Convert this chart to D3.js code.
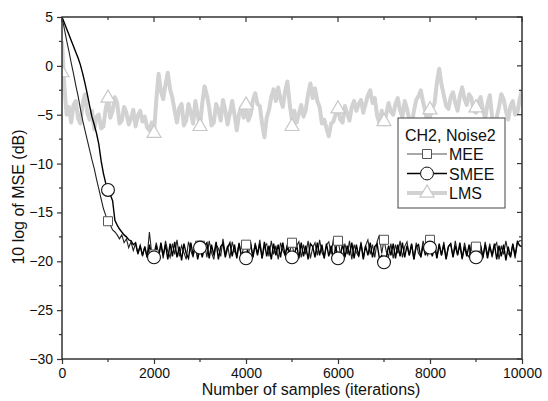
<!DOCTYPE html>
<html lang='en'>
<head>
  <meta charset='UTF-8'>
  <title>MSE curves</title>
  <style>
    * {
      margin: 0;
      padding: 0;
    }
    body {
      background: #fff;
    }
    #chart {
      width: 548px;
      height: 401px;
    }
    text {
      font-family: 'Liberation Sans', Arial, sans-serif;
      fill: #111;
    }
  </style>
</head>
<body>
<script src='https://cdn.jsdelivr.net/npm/d3@7'></script>
<div id='chart'></div>
<script>
  // every curve is sampled each 50 iterations
  const sampleStep = 50
  const mee = [
    5.0, 3.8, 2.6, 1.5, 0.3, -0.8, -2.0, -3.1, -4.4, -5.6, -6.6, -7.6, -8.6, -9.6, -10.5, -11.6, -12.6, -13.6, -14.6, -15.3,
    -15.9, -16.3, -16.8, -17.0, -17.3, -17.7, -17.3, -18.1, -17.7, -18.6, -18.0, -18.9, -18.2, -19.3, -18.4, -19.5, -18.5, -19.6, -17.0, -19.2,
    -19.3, -18.1, -19.4, -18.3, -19.7, -17.9, -19.0, -19.6, -18.2, -19.3, -17.8, -19.5, -18.4, -19.1, -19.8, -18.0, -18.9, -19.6, -18.1, -19.2,
    -18.4, -19.5, -18.2, -19.6, -17.9, -19.1, -19.8, -18.3, -18.7, -19.5, -17.7, -19.3, -18.4, -19.7, -18.0, -19.0, -19.4, -18.1, -19.6, -18.5,
    -18.3, -19.3, -18.2, -19.6, -18.1, -19.2, -17.8, -19.7, -18.5, -18.2, -19.5, -17.9, -19.3, -18.4, -19.8, -18.1, -18.9, -19.4, -18.2, -19.1,
    -18.1, -19.5, -18.4, -18.0, -19.6, -18.3, -19.3, -17.9, -19.7, -18.6, -18.1, -19.4, -17.8, -19.1, -19.6, -18.3, -18.0, -19.3, -17.7, -18.9,
    -17.9, -19.1, -19.6, -18.2, -19.3, -17.9, -19.8, -18.3, -19.1, -19.5, -18.0, -19.6, -18.4, -17.8, -19.3, -18.3, -19.6, -18.0, -17.3, -19.2,
    -17.8, -19.0, -19.5, -18.2, -19.7, -18.3, -19.2, -17.9, -19.6, -18.5, -18.0, -19.4, -18.3, -19.8, -18.1, -19.2, -19.5, -17.9, -18.9, -19.4,
    -17.8, -19.2, -18.1, -19.6, -18.4, -19.4, -18.0, -19.7, -18.5, -18.2, -19.5, -17.9, -19.3, -18.4, -19.8, -18.1, -19.2, -19.6, -18.2, -19.0,
    -18.5, -19.5, -18.3, -19.7, -18.0, -19.4, -18.2, -19.6, -18.5, -18.1, -19.8, -18.4, -19.3, -17.9, -19.2, -19.5, -18.3, -19.7, -18.1, -17.9,
    -17.9
  ]
  const smee = [
    5.0, 4.4, 3.8, 3.2, 2.6, 2.0, 1.4, 0.8, 0.1, -0.8, -1.8, -2.9, -4.1, -5.2, -6.0, -6.9, -8.0, -9.7, -11.0, -12.0,
    -12.7, -13.2, -13.8, -15.8, -16.3, -16.7, -17.0, -17.3, -17.5, -17.8, -17.9, -18.3, -18.1, -19.2, -18.4, -19.4, -18.5, -19.6, -18.3, -19.5,
    -19.6, -18.4, -19.7, -18.1, -19.4, -18.3, -19.8, -18.2, -19.5, -18.0, -19.6, -18.5, -19.9, -18.2, -19.2, -19.7, -18.1, -19.4, -18.3, -19.8,
    -18.6, -19.6, -18.4, -18.1, -19.7, -18.3, -19.4, -18.0, -19.8, -18.5, -18.2, -19.6, -18.6, -18.1, -19.5, -18.3, -19.7, -18.2, -19.4, -19.6,
    -19.7, -18.5, -18.1, -19.6, -18.3, -19.4, -18.2, -19.7, -18.0, -19.5, -18.4, -19.8, -18.2, -19.4, -18.3, -19.6, -18.1, -19.4, -18.4, -19.7,
    -19.6, -19.4, -18.3, -19.7, -18.1, -19.5, -18.4, -19.8, -18.2, -18.5, -19.6, -18.1, -19.4, -18.3, -19.7, -18.2, -19.5, -18.4, -19.8, -18.5,
    -19.7, -19.5, -18.2, -19.6, -18.4, -19.4, -18.1, -19.7, -18.3, -19.5, -18.2, -19.8, -18.4, -19.4, -18.1, -19.6, -18.5, -18.2, -19.7, -19.4,
    -20.1, -19.6, -18.4, -19.4, -18.2, -19.7, -18.3, -19.5, -18.1, -19.6, -18.4, -19.4, -18.2, -19.8, -18.5, -18.3, -19.6, -18.4, -19.4, -18.3,
    -18.6, -19.5, -18.4, -19.7, -18.2, -19.4, -18.3, -19.8, -18.5, -18.2, -19.6, -18.4, -19.4, -18.1, -19.7, -18.5, -19.5, -18.3, -19.9, -19.4,
    -19.6, -20.2, -18.4, -19.6, -18.3, -19.7, -18.5, -19.4, -18.2, -19.8, -18.4, -19.5, -18.3, -19.9, -18.5, -19.6, -18.2, -19.4, -18.0, -18.4,
    -18.5
  ]
  const lms = [
    2.5, -2.0, -5.0, -4.2, -5.8, -4.0, -3.6, -5.4, -5.9, -3.8, -2.9, -4.8, -5.5, -4.6, -6.5, -5.2, -5.0, -6.4, -6.2, -4.4,
    -3.3, -5.3, -4.6, -3.2, -3.8, -5.9, -5.6, -4.2, -4.8, -6.0, -5.4, -4.5, -6.2, -5.1, -4.6, -5.7, -5.2, -6.3, -6.6, -5.8,
    -6.9, -3.5, -0.8, -2.6, -3.4, -1.9, -0.7, -2.4, -3.3, -4.6, -5.8, -4.3, -3.9, -6.1, -5.6, -3.9, -4.8, -5.9, -3.6, -5.0,
    -6.2, -3.8, -2.1, -3.0, -4.3, -6.1, -5.8, -3.9, -4.5, -5.6, -3.5, -4.6, -6.0, -4.8, -3.6, -5.0, -6.6, -4.9, -4.2, -5.3,
    -4.0, -5.6, -5.0, -3.5, -2.8, -3.9, -4.1, -5.9, -7.3, -5.3, -4.5, -3.2, -2.4, -3.6, -2.2, -3.4, -4.2, -2.6, -1.6, -3.9,
    -5.6, -4.6, -5.8, -4.9, -4.0, -5.2, -4.5, -2.9, -1.8, -3.3, -2.3, -3.6, -4.2, -5.9, -5.5, -6.4, -7.2, -5.9, -5.7, -4.9,
    -4.4, -5.5, -5.8, -4.1, -4.9, -5.6, -4.2, -3.6, -4.6, -3.9, -3.5, -4.8, -3.9, -3.0, -2.5, -3.8, -3.3, -5.1, -5.8, -4.6,
    -6.0, -4.9, -3.8, -4.7, -5.0, -3.9, -3.3, -4.6, -5.2, -3.6, -4.4, -5.5, -6.2, -4.6, -3.5, -3.1, -2.5, -3.7, -4.7, -6.0,
    -5.2, -4.4, -3.8, -1.7, -0.3, -1.9, -3.0, -4.1, -4.4, -3.2, -2.7, -3.8, -4.6, -3.1, -2.2, -3.4, -4.0, -2.9, -3.3, -4.6,
    -4.8, -3.7, -3.2, -4.5, -5.4, -3.9, -3.0, -5.2, -7.0, -5.3, -4.2, -2.9, -3.4, -4.6, -5.5, -4.1, -3.6, -5.0, -4.8, -3.4,
    -2.5
  ]

  // symbols sit every 1000 iterations
  const markSamples = [0, 1000, 2000, 3000, 4000, 5000, 6000, 7000, 8000, 9000]
  const meeMarks = [null, -15.9, -19.3, -18.4, -18.3, -18.1, -17.9, -17.8, -17.8, -18.5]
  const smeeMarks = [null, -12.7, -19.6, -18.6, -19.7, -19.6, -19.7, -20.1, -18.6, -19.6]
  const lmsMarks = [-0.7, -3.3, -6.9, -6.2, -4.0, -6.2, -4.4, -5.7, -4.5, -4.3]

  const xTicks = [0, 2000, 4000, 6000, 8000, 10000]
  const yTicks = [5, 0, -5, -10, -15, -20, -25, -30]
  const legendTitle = 'CH2, Noise2'
  const seriesNames = ['MEE', 'SMEE', 'LMS']

  let margin = {top: 17, right: 26, bottom: 42, left: 62}
  let width = 548 - margin.left - margin.right
  let height = 401 - margin.top - margin.bottom

  let svg = d3.select('#chart')
  .append('svg')
  .attr('xmlns', 'http://www.w3.org/2000/svg')
  .attr('width', 548)
  .attr('height', 401)

  svg.append('rect')
  .attr('width', 548)
  .attr('height', 401)
  .style('fill', '#fff')

  let chart = svg.append('g')
  .attr('transform', 'translate(' + margin.left + ',' + margin.top + ')')

  let x = d3.scaleLinear().domain([0, 10000]).range([0, width])
  let y = d3.scaleLinear().domain([-30, 5]).range([height, 0])

  chart.append('clipPath')
  .attr('id', 'plot-clip')
  .append('rect')
  .attr('width', width)
  .attr('height', height)

  let plot = chart.append('g').attr('clip-path', 'url(#plot-clip)')

  let line = d3.line()
  .x((d, i) => x(i * sampleStep))
  .y(d => y(d))

  const styles = {
    MEE: {stroke: '#222', width: 1.1, mark: '#555'},
    SMEE: {stroke: '#000', width: 1.4, mark: '#111'},
    LMS: {stroke: '#d2d2d2', width: 4, mark: '#c8c8c8'}
  }

  // lines
  plot.append('path')
  .attr('d', line(lms))
  .attr('fill', 'none')
  .attr('stroke', styles.LMS.stroke)
  .attr('stroke-width', styles.LMS.width)
  .attr('stroke-linejoin', 'round')

  plot.append('path')
  .attr('d', line(mee))
  .attr('fill', 'none')
  .attr('stroke', styles.MEE.stroke)
  .attr('stroke-width', styles.MEE.width)

  plot.append('path')
  .attr('d', line(smee))
  .attr('fill', 'none')
  .attr('stroke', styles.SMEE.stroke)
  .attr('stroke-width', styles.SMEE.width)

  // symbols
  function drawMark (g, type, cx, cy, color, strokeW) {
    let sym = d3.symbol()
    if (type === 'square') sym.type(d3.symbolSquare).size(81)
    if (type === 'circle') sym.type(d3.symbolCircle).size(130)
    if (type === 'triangle') sym.type(d3.symbolTriangle).size(85)
    g.append('path')
    .attr('d', sym())
    .attr('transform', 'translate(' + cx + ',' + cy + ')')
    .attr('fill', '#fff')
    .attr('stroke', color)
    .attr('stroke-width', strokeW)
  }

  markSamples.forEach((s, i) => {
    drawMark(plot, 'triangle', x(s), y(lmsMarks[i]), styles.LMS.mark, 1.2)
  })
  markSamples.forEach((s, i) => {
    if (meeMarks[i] !== null) drawMark(plot, 'square', x(s), y(meeMarks[i]), styles.MEE.mark, 1)
  })
  markSamples.forEach((s, i) => {
    if (smeeMarks[i] !== null) drawMark(plot, 'circle', x(s), y(smeeMarks[i]), styles.SMEE.mark, 1.1)
  })

  // axes
  let xMinor = d3.range(1000, 10000, 2000)
  let yMinor = d3.range(-27.5, 5, 5)

  let axisBottomG = chart.append('g')
  .attr('transform', 'translate(0,' + height + ')')
  .call(d3.axisBottom(x).tickValues(xTicks).tickSize(5).tickPadding(4).tickFormat(d3.format('d')))
  axisBottomG.append('g').selectAll('line').data(xMinor).join('line')
  .attr('x1', d => x(d)).attr('x2', d => x(d)).attr('y1', 0).attr('y2', 3)

  let axisLeftG = chart.append('g')
  .call(d3.axisLeft(y).tickValues(yTicks).tickSize(5).tickPadding(4))
  axisLeftG.append('g').selectAll('line').data(yMinor).join('line')
  .attr('y1', d => y(d)).attr('y2', d => y(d)).attr('x1', 0).attr('x2', -3)

  // mirrored ticks, pointing inward
  let axisTopG = chart.append('g')
  axisTopG.selectAll('line.maj').data(xTicks).join('line')
  .attr('x1', d => x(d)).attr('x2', d => x(d)).attr('y1', 0).attr('y2', 5)
  axisTopG.append('g').selectAll('line').data(xMinor).join('line')
  .attr('x1', d => x(d)).attr('x2', d => x(d)).attr('y1', 0).attr('y2', 3)

  let axisRightG = chart.append('g')
  axisRightG.selectAll('line.maj').data(yTicks).join('line')
  .attr('y1', d => y(d)).attr('y2', d => y(d)).attr('x1', width).attr('x2', width - 5)
  axisRightG.append('g').selectAll('line').data(yMinor).join('line')
  .attr('y1', d => y(d)).attr('y2', d => y(d)).attr('x1', width).attr('x2', width - 3)

  chart.append('rect')
  .attr('width', width)
  .attr('height', height)
  .attr('fill', 'none')
  .attr('stroke', '#333')
  .attr('stroke-width', 1.5)

  chart.selectAll('line').attr('stroke', '#333').attr('stroke-width', 1.2)
  chart.selectAll('.domain').remove()
  chart.selectAll('.tick text')
  .style('font-size', '14px')
  .style('font-family', "'Liberation Sans', Arial, sans-serif")
  .attr('fill', '#111')

  // axis titles
  svg.append('text')
  .attr('x', 311)
  .attr('y', 395)
  .attr('text-anchor', 'middle')
  .style('font-size', '16px')
  .text('Number of samples (iterations)')

  svg.append('text')
  .attr('transform', 'translate(24,197) rotate(-90)')
  .attr('text-anchor', 'middle')
  .style('font-size', '16px')
  .text('10 log of MSE (dB)')

  // legend
  let legend = svg.append('g').attr('transform', 'translate(398,118)')
  legend.append('rect')
  .attr('width', 107)
  .attr('height', 90)
  .attr('fill', '#fff')
  .attr('stroke', '#444')
  .attr('stroke-width', 1)
  legend.append('text')
  .attr('x', 7)
  .attr('y', 23)
  .style('font-size', '16px')
  .text(legendTitle)

  const markTypes = {MEE: 'square', SMEE: 'circle', LMS: 'triangle'}
  seriesNames.forEach((name, i) => {
    let cy = 36 + i * 19.5
    let st = styles[name]
    legend.append('line')
    .attr('x1', 9).attr('x2', 49)
    .attr('y1', cy).attr('y2', cy)
    .attr('stroke', name === 'MEE' ? '#555' : st.stroke)
    .attr('stroke-width', st.width)
    drawMark(legend, markTypes[name], 29, cy, st.mark, name === 'LMS' ? 1.2 : 1)
    legend.append('text')
    .attr('x', 51)
    .attr('y', cy + 6)
    .style('font-size', '16px')
    .text(name)
  })
</script>
</body>
</html>
